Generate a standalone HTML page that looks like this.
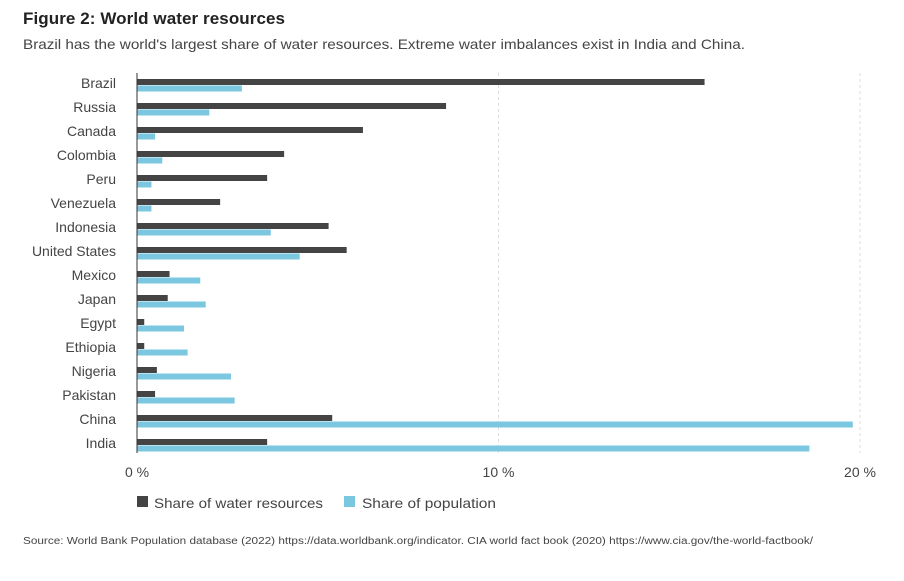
<!DOCTYPE html>
<html><head><meta charset="utf-8"><style>
body{margin:0;background:#fff;width:904px;height:576px;overflow:hidden;font-family:"Liberation Sans",sans-serif;}
</style></head><body>
<svg width="904" height="576" xmlns="http://www.w3.org/2000/svg" id="chart">
<text x="23" y="24" font-size="17" font-weight="bold" fill="#222" textLength="262">Figure 2: World water resources</text>
<text x="23" y="49" font-size="14" fill="#444" textLength="722" lengthAdjust="spacingAndGlyphs">Brazil has the world's largest share of water resources. Extreme water imbalances exist in India and China.</text>
<g id="grid"></g><g id="bars"></g><g id="labels"></g><g id="ticks"></g>
<line x1="137" y1="73" x2="137" y2="453" stroke="#333" stroke-width="1"/>
<rect x="137" y="496" width="11" height="11" fill="#444"/>
<text x="154" y="508" font-size="14" fill="#444" textLength="169" lengthAdjust="spacingAndGlyphs">Share of water resources</text>
<rect x="344" y="496" width="11" height="11" fill="#7cc7e0"/>
<text x="362" y="508" font-size="14" fill="#444" textLength="134" lengthAdjust="spacingAndGlyphs">Share of population</text>
<text x="23" y="544" font-size="10" fill="#444" textLength="790" lengthAdjust="spacingAndGlyphs">Source: World Bank Population database (2022) https://data.worldbank.org/indicator. CIA world fact book (2020) https://www.cia.gov/the-world-factbook/</text>
</svg>
<script>
const countries=["Brazil","Russia","Canada","Colombia","Peru","Venezuela","Indonesia","United States","Mexico","Japan","Egypt","Ethiopia","Nigeria","Pakistan","China","India"];
const waterShare=[15.7,8.55,6.25,4.07,3.6,2.3,5.3,5.8,0.9,0.85,0.2,0.2,0.55,0.5,5.4,3.6];
const popShare=[2.9,2.0,0.5,0.7,0.4,0.4,3.7,4.5,1.75,1.9,1.3,1.4,2.6,2.7,19.8,18.6];
const tickValues=[0,10,20];
const tickLabels=["0 %","10 %","20 %"];
const NS="http://www.w3.org/2000/svg";
const x=v=>137+v*36.15;
const y=i=>83+i*24;
function mk(tag,attrs,parent){const e=document.createElementNS(NS,tag);for(const k in attrs)e.setAttribute(k,attrs[k]);document.getElementById(parent).appendChild(e);return e;}
tickValues.forEach((t,i)=>{
  if(t>0){const g=mk("line",{x1:x(t),x2:x(t),y1:73,y2:453,stroke:"#ddd","stroke-dasharray":"3,3"},"grid");
  
  }
  const tx=mk("text",{x:x(t),y:477,"font-size":14,fill:"#444","text-anchor":"middle"},"ticks");
  tx.textContent=tickLabels[i];
  
  
});
countries.forEach((c,i)=>{
  const l=mk("text",{x:116,y:y(i)+5,"font-size":14,fill:"#444","text-anchor":"end"},"labels");
  l.textContent=c;
  
  
  const b1=mk("rect",{x:137,y:y(i)-4,width:x(waterShare[i])-137,height:6,fill:"#444"},"bars");
  
  
  const b2=mk("rect",{x:137,y:y(i)+2.5,width:x(popShare[i])-137,height:6,fill:"#7cc7e0"},"bars");
  
  
});
</script>
</body></html>
